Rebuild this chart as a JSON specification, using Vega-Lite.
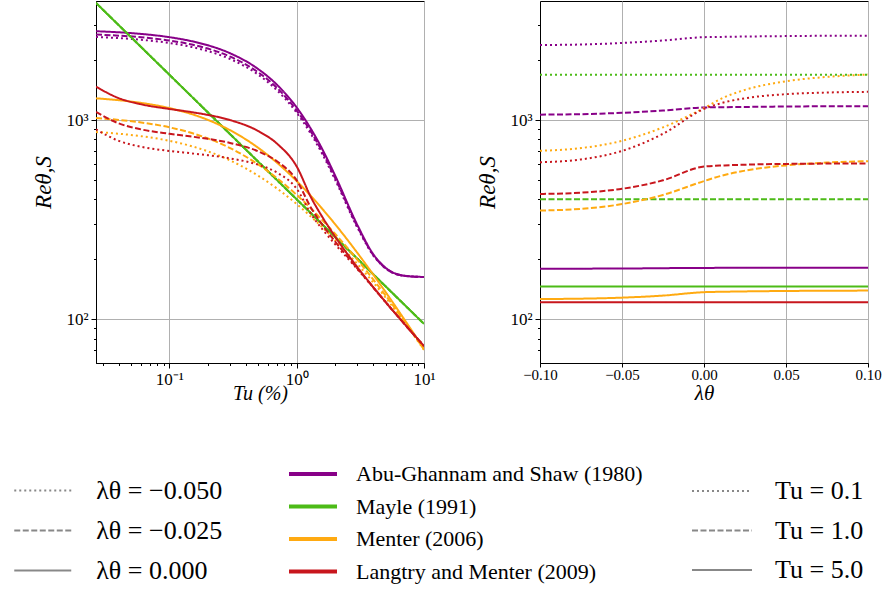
{
  "$schema": "https://vega.github.io/schema/vega-lite/v6.json",
  "padding": {"left": 26, "top": 0, "right": 0, "bottom": 0},
  "autosize": {"type": "pad"},
  "config": {
    "font": "Liberation Serif",
    "view": {"stroke": "#000000", "strokeWidth": 1},
    "axis": {
      "labelFont": "Liberation Serif", "labelFontSize": 15, "labelColor": "#000000",
      "titleFont": "Liberation Serif", "titleColor": "#000000", "titleFontWeight": "normal",
      "domainColor": "#000000", "tickColor": "#000000",
      "gridColor": "#b0b0b0", "gridWidth": 1,
      "labelFlush": false, "labelOverlap": false, "labelPadding": 3
    },
    "legend": {"padding": 0, "labelFont": "Liberation Serif", "labelColor": "#000000", "labelLimit": 400}
  },
  "datasets": {
    "tu_sweep": [
      {"model":"Abu-Ghannam and Shaw (1980)","case":"λθ = −0.050","Tu":0.0265,"Re":2609},
      {"model":"Abu-Ghannam and Shaw (1980)","case":"λθ = −0.050","Tu":0.04,"Re":2576},
      {"model":"Abu-Ghannam and Shaw (1980)","case":"λθ = −0.050","Tu":0.06,"Re":2528},
      {"model":"Abu-Ghannam and Shaw (1980)","case":"λθ = −0.050","Tu":0.1,"Re":2435},
      {"model":"Abu-Ghannam and Shaw (1980)","case":"λθ = −0.050","Tu":0.15,"Re":2325},
      {"model":"Abu-Ghannam and Shaw (1980)","case":"λθ = −0.050","Tu":0.2,"Re":2219},
      {"model":"Abu-Ghannam and Shaw (1980)","case":"λθ = −0.050","Tu":0.3,"Re":2023},
      {"model":"Abu-Ghannam and Shaw (1980)","case":"λθ = −0.050","Tu":0.5,"Re":1686},
      {"model":"Abu-Ghannam and Shaw (1980)","case":"λθ = −0.050","Tu":0.7,"Re":1410},
      {"model":"Abu-Ghannam and Shaw (1980)","case":"λθ = −0.050","Tu":1,"Re":1087},
      {"model":"Abu-Ghannam and Shaw (1980)","case":"λθ = −0.050","Tu":1.3,"Re":847},
      {"model":"Abu-Ghannam and Shaw (1980)","case":"λθ = −0.050","Tu":1.6,"Re":670},
      {"model":"Abu-Ghannam and Shaw (1980)","case":"λθ = −0.050","Tu":2,"Re":503},
      {"model":"Abu-Ghannam and Shaw (1980)","case":"λθ = −0.050","Tu":3,"Re":288},
      {"model":"Abu-Ghannam and Shaw (1980)","case":"λθ = −0.050","Tu":4,"Re":209},
      {"model":"Abu-Ghannam and Shaw (1980)","case":"λθ = −0.050","Tu":5,"Re":179.9},
      {"model":"Abu-Ghannam and Shaw (1980)","case":"λθ = −0.050","Tu":7,"Re":165.3},
      {"model":"Abu-Ghannam and Shaw (1980)","case":"λθ = −0.050","Tu":10,"Re":163.1},
      {"model":"Abu-Ghannam and Shaw (1980)","case":"λθ = −0.025","Tu":0.0265,"Re":2684},
      {"model":"Abu-Ghannam and Shaw (1980)","case":"λθ = −0.025","Tu":0.04,"Re":2651},
      {"model":"Abu-Ghannam and Shaw (1980)","case":"λθ = −0.025","Tu":0.06,"Re":2601},
      {"model":"Abu-Ghannam and Shaw (1980)","case":"λθ = −0.025","Tu":0.1,"Re":2506},
      {"model":"Abu-Ghannam and Shaw (1980)","case":"λθ = −0.025","Tu":0.15,"Re":2391},
      {"model":"Abu-Ghannam and Shaw (1980)","case":"λθ = −0.025","Tu":0.2,"Re":2283},
      {"model":"Abu-Ghannam and Shaw (1980)","case":"λθ = −0.025","Tu":0.3,"Re":2081},
      {"model":"Abu-Ghannam and Shaw (1980)","case":"λθ = −0.025","Tu":0.5,"Re":1733},
      {"model":"Abu-Ghannam and Shaw (1980)","case":"λθ = −0.025","Tu":0.7,"Re":1449},
      {"model":"Abu-Ghannam and Shaw (1980)","case":"λθ = −0.025","Tu":1,"Re":1115},
      {"model":"Abu-Ghannam and Shaw (1980)","case":"λθ = −0.025","Tu":1.3,"Re":869},
      {"model":"Abu-Ghannam and Shaw (1980)","case":"λθ = −0.025","Tu":1.6,"Re":686},
      {"model":"Abu-Ghannam and Shaw (1980)","case":"λθ = −0.025","Tu":2,"Re":513},
      {"model":"Abu-Ghannam and Shaw (1980)","case":"λθ = −0.025","Tu":3,"Re":292},
      {"model":"Abu-Ghannam and Shaw (1980)","case":"λθ = −0.025","Tu":4,"Re":210},
      {"model":"Abu-Ghannam and Shaw (1980)","case":"λθ = −0.025","Tu":5,"Re":180.4},
      {"model":"Abu-Ghannam and Shaw (1980)","case":"λθ = −0.025","Tu":7,"Re":165.4},
      {"model":"Abu-Ghannam and Shaw (1980)","case":"λθ = −0.025","Tu":10,"Re":163.1},
      {"model":"Abu-Ghannam and Shaw (1980)","case":"λθ = 0.000","Tu":0.0265,"Re":2790},
      {"model":"Abu-Ghannam and Shaw (1980)","case":"λθ = 0.000","Tu":0.04,"Re":2755},
      {"model":"Abu-Ghannam and Shaw (1980)","case":"λθ = 0.000","Tu":0.06,"Re":2704},
      {"model":"Abu-Ghannam and Shaw (1980)","case":"λθ = 0.000","Tu":0.1,"Re":2604},
      {"model":"Abu-Ghannam and Shaw (1980)","case":"λθ = 0.000","Tu":0.15,"Re":2485},
      {"model":"Abu-Ghannam and Shaw (1980)","case":"λθ = 0.000","Tu":0.2,"Re":2372},
      {"model":"Abu-Ghannam and Shaw (1980)","case":"λθ = 0.000","Tu":0.3,"Re":2162},
      {"model":"Abu-Ghannam and Shaw (1980)","case":"λθ = 0.000","Tu":0.5,"Re":1799},
      {"model":"Abu-Ghannam and Shaw (1980)","case":"λθ = 0.000","Tu":0.7,"Re":1503},
      {"model":"Abu-Ghannam and Shaw (1980)","case":"λθ = 0.000","Tu":1,"Re":1156},
      {"model":"Abu-Ghannam and Shaw (1980)","case":"λθ = 0.000","Tu":1.3,"Re":898},
      {"model":"Abu-Ghannam and Shaw (1980)","case":"λθ = 0.000","Tu":1.6,"Re":708},
      {"model":"Abu-Ghannam and Shaw (1980)","case":"λθ = 0.000","Tu":2,"Re":528},
      {"model":"Abu-Ghannam and Shaw (1980)","case":"λθ = 0.000","Tu":3,"Re":297},
      {"model":"Abu-Ghannam and Shaw (1980)","case":"λθ = 0.000","Tu":4,"Re":212},
      {"model":"Abu-Ghannam and Shaw (1980)","case":"λθ = 0.000","Tu":5,"Re":181.2},
      {"model":"Abu-Ghannam and Shaw (1980)","case":"λθ = 0.000","Tu":7,"Re":165.5},
      {"model":"Abu-Ghannam and Shaw (1980)","case":"λθ = 0.000","Tu":10,"Re":163.1},

      {"model":"Mayle (1991)","case":"λθ = −0.050","Tu":0.0265,"Re":3868},
      {"model":"Mayle (1991)","case":"λθ = −0.050","Tu":0.1,"Re":1687},
      {"model":"Mayle (1991)","case":"λθ = −0.050","Tu":0.3,"Re":849},
      {"model":"Mayle (1991)","case":"λθ = −0.050","Tu":1,"Re":400},
      {"model":"Mayle (1991)","case":"λθ = −0.050","Tu":3,"Re":201.3},
      {"model":"Mayle (1991)","case":"λθ = −0.050","Tu":10,"Re":94.9},
      {"model":"Mayle (1991)","case":"λθ = −0.025","Tu":0.0265,"Re":3868},
      {"model":"Mayle (1991)","case":"λθ = −0.025","Tu":0.1,"Re":1687},
      {"model":"Mayle (1991)","case":"λθ = −0.025","Tu":0.3,"Re":849},
      {"model":"Mayle (1991)","case":"λθ = −0.025","Tu":1,"Re":400},
      {"model":"Mayle (1991)","case":"λθ = −0.025","Tu":3,"Re":201.3},
      {"model":"Mayle (1991)","case":"λθ = −0.025","Tu":10,"Re":94.9},
      {"model":"Mayle (1991)","case":"λθ = 0.000","Tu":0.0265,"Re":3868},
      {"model":"Mayle (1991)","case":"λθ = 0.000","Tu":0.1,"Re":1687},
      {"model":"Mayle (1991)","case":"λθ = 0.000","Tu":0.3,"Re":849},
      {"model":"Mayle (1991)","case":"λθ = 0.000","Tu":1,"Re":400},
      {"model":"Mayle (1991)","case":"λθ = 0.000","Tu":3,"Re":201.3},
      {"model":"Mayle (1991)","case":"λθ = 0.000","Tu":10,"Re":94.9},

      {"model":"Menter (2006)","case":"λθ = −0.050","Tu":0.0265,"Re":870.5},
      {"model":"Menter (2006)","case":"λθ = −0.050","Tu":0.04,"Re":853.6},
      {"model":"Menter (2006)","case":"λθ = −0.050","Tu":0.06,"Re":829.9},
      {"model":"Menter (2006)","case":"λθ = −0.050","Tu":0.1,"Re":786.6},
      {"model":"Menter (2006)","case":"λθ = −0.050","Tu":0.15,"Re":738.8},
      {"model":"Menter (2006)","case":"λθ = −0.050","Tu":0.2,"Re":696.9},
      {"model":"Menter (2006)","case":"λθ = −0.050","Tu":0.3,"Re":627.0},
      {"model":"Menter (2006)","case":"λθ = −0.050","Tu":0.5,"Re":524.7},
      {"model":"Menter (2006)","case":"λθ = −0.050","Tu":0.7,"Re":453.3},
      {"model":"Menter (2006)","case":"λθ = −0.050","Tu":1,"Re":378.7},
      {"model":"Menter (2006)","case":"λθ = −0.050","Tu":1.3,"Re":326.8},
      {"model":"Menter (2006)","case":"λθ = −0.050","Tu":1.6,"Re":288.4},
      {"model":"Menter (2006)","case":"λθ = −0.050","Tu":2,"Re":250.3},
      {"model":"Menter (2006)","case":"λθ = −0.050","Tu":3,"Re":189.5},
      {"model":"Menter (2006)","case":"λθ = −0.050","Tu":4,"Re":153.0},
      {"model":"Menter (2006)","case":"λθ = −0.050","Tu":5,"Re":128.5},
      {"model":"Menter (2006)","case":"λθ = −0.050","Tu":7,"Re":96.8},
      {"model":"Menter (2006)","case":"λθ = −0.050","Tu":10,"Re":70.3},
      {"model":"Menter (2006)","case":"λθ = −0.025","Tu":0.0265,"Re":1022.4},
      {"model":"Menter (2006)","case":"λθ = −0.025","Tu":0.04,"Re":1001.6},
      {"model":"Menter (2006)","case":"λθ = −0.025","Tu":0.06,"Re":972.4},
      {"model":"Menter (2006)","case":"λθ = −0.025","Tu":0.1,"Re":919.0},
      {"model":"Menter (2006)","case":"λθ = −0.025","Tu":0.15,"Re":860.3},
      {"model":"Menter (2006)","case":"λθ = −0.025","Tu":0.2,"Re":808.8},
      {"model":"Menter (2006)","case":"λθ = −0.025","Tu":0.3,"Re":723.0},
      {"model":"Menter (2006)","case":"λθ = −0.025","Tu":0.5,"Re":597.9},
      {"model":"Menter (2006)","case":"λθ = −0.025","Tu":0.7,"Re":511.0},
      {"model":"Menter (2006)","case":"λθ = −0.025","Tu":1,"Re":420.9},
      {"model":"Menter (2006)","case":"λθ = −0.025","Tu":1.3,"Re":358.8},
      {"model":"Menter (2006)","case":"λθ = −0.025","Tu":1.6,"Re":313.4},
      {"model":"Menter (2006)","case":"λθ = −0.025","Tu":2,"Re":268.7},
      {"model":"Menter (2006)","case":"λθ = −0.025","Tu":3,"Re":199.0},
      {"model":"Menter (2006)","case":"λθ = −0.025","Tu":4,"Re":158.3},
      {"model":"Menter (2006)","case":"λθ = −0.025","Tu":5,"Re":131.6},
      {"model":"Menter (2006)","case":"λθ = −0.025","Tu":7,"Re":98.0},
      {"model":"Menter (2006)","case":"λθ = −0.025","Tu":10,"Re":70.6},
      {"model":"Menter (2006)","case":"λθ = 0.000","Tu":0.0265,"Re":1285.1},
      {"model":"Menter (2006)","case":"λθ = 0.000","Tu":0.04,"Re":1257.5},
      {"model":"Menter (2006)","case":"λθ = 0.000","Tu":0.06,"Re":1218.8},
      {"model":"Menter (2006)","case":"λθ = 0.000","Tu":0.1,"Re":1148.0},
      {"model":"Menter (2006)","case":"λθ = 0.000","Tu":0.15,"Re":1070.2},
      {"model":"Menter (2006)","case":"λθ = 0.000","Tu":0.2,"Re":1002.1},
      {"model":"Menter (2006)","case":"λθ = 0.000","Tu":0.3,"Re":888.8},
      {"model":"Menter (2006)","case":"λθ = 0.000","Tu":0.5,"Re":724.3},
      {"model":"Menter (2006)","case":"λθ = 0.000","Tu":0.7,"Re":610.7},
      {"model":"Menter (2006)","case":"λθ = 0.000","Tu":1,"Re":493.9},
      {"model":"Menter (2006)","case":"λθ = 0.000","Tu":1.3,"Re":414.2},
      {"model":"Menter (2006)","case":"λθ = 0.000","Tu":1.6,"Re":356.5},
      {"model":"Menter (2006)","case":"λθ = 0.000","Tu":2,"Re":300.5},
      {"model":"Menter (2006)","case":"λθ = 0.000","Tu":3,"Re":215.3},
      {"model":"Menter (2006)","case":"λθ = 0.000","Tu":4,"Re":167.4},
      {"model":"Menter (2006)","case":"λθ = 0.000","Tu":5,"Re":136.9},
      {"model":"Menter (2006)","case":"λθ = 0.000","Tu":7,"Re":100.0},
      {"model":"Menter (2006)","case":"λθ = 0.000","Tu":10,"Re":71.1},

      {"model":"Langtry and Menter (2009)","case":"λθ = −0.050","Tu":0.0265,"Re":897.2},
      {"model":"Langtry and Menter (2009)","case":"λθ = −0.050","Tu":0.04,"Re":786.3},
      {"model":"Langtry and Menter (2009)","case":"λθ = −0.050","Tu":0.06,"Re":734.2},
      {"model":"Langtry and Menter (2009)","case":"λθ = −0.050","Tu":0.1,"Re":699.9},
      {"model":"Langtry and Menter (2009)","case":"λθ = −0.050","Tu":0.15,"Re":680.3},
      {"model":"Langtry and Menter (2009)","case":"λθ = −0.050","Tu":0.2,"Re":666.1},
      {"model":"Langtry and Menter (2009)","case":"λθ = −0.050","Tu":0.3,"Re":642.0},
      {"model":"Langtry and Menter (2009)","case":"λθ = −0.050","Tu":0.5,"Re":596.1},
      {"model":"Langtry and Menter (2009)","case":"λθ = −0.050","Tu":0.7,"Re":545.0},
      {"model":"Langtry and Menter (2009)","case":"λθ = −0.050","Tu":1,"Re":451.8},
      {"model":"Langtry and Menter (2009)","case":"λθ = −0.050","Tu":1.3,"Re":336.3},
      {"model":"Langtry and Menter (2009)","case":"λθ = −0.050","Tu":1.6,"Re":282.0},
      {"model":"Langtry and Menter (2009)","case":"λθ = −0.050","Tu":2,"Re":238.5},
      {"model":"Langtry and Menter (2009)","case":"λθ = −0.050","Tu":3,"Re":178.3},
      {"model":"Langtry and Menter (2009)","case":"λθ = −0.050","Tu":4,"Re":144.2},
      {"model":"Langtry and Menter (2009)","case":"λθ = −0.050","Tu":5,"Re":121.9},
      {"model":"Langtry and Menter (2009)","case":"λθ = −0.050","Tu":7,"Re":95.0},
      {"model":"Langtry and Menter (2009)","case":"λθ = −0.050","Tu":10,"Re":73.5},
      {"model":"Langtry and Menter (2009)","case":"λθ = −0.025","Tu":0.0265,"Re":1098.4},
      {"model":"Langtry and Menter (2009)","case":"λθ = −0.025","Tu":0.04,"Re":962.1},
      {"model":"Langtry and Menter (2009)","case":"λθ = −0.025","Tu":0.06,"Re":897.3},
      {"model":"Langtry and Menter (2009)","case":"λθ = −0.025","Tu":0.1,"Re":853.1},
      {"model":"Langtry and Menter (2009)","case":"λθ = −0.025","Tu":0.15,"Re":825.8},
      {"model":"Langtry and Menter (2009)","case":"λθ = −0.025","Tu":0.2,"Re":804.7},
      {"model":"Langtry and Menter (2009)","case":"λθ = −0.025","Tu":0.3,"Re":767.3},
      {"model":"Langtry and Menter (2009)","case":"λθ = −0.025","Tu":0.5,"Re":695.6},
      {"model":"Langtry and Menter (2009)","case":"λθ = −0.025","Tu":0.7,"Re":621.0},
      {"model":"Langtry and Menter (2009)","case":"λθ = −0.025","Tu":1,"Re":498.3},
      {"model":"Langtry and Menter (2009)","case":"λθ = −0.025","Tu":1.3,"Re":361.3},
      {"model":"Langtry and Menter (2009)","case":"λθ = −0.025","Tu":1.6,"Re":296.8},
      {"model":"Langtry and Menter (2009)","case":"λθ = −0.025","Tu":2,"Re":246.1},
      {"model":"Langtry and Menter (2009)","case":"λθ = −0.025","Tu":3,"Re":179.8},
      {"model":"Langtry and Menter (2009)","case":"λθ = −0.025","Tu":4,"Re":144.4},
      {"model":"Langtry and Menter (2009)","case":"λθ = −0.025","Tu":5,"Re":121.9},
      {"model":"Langtry and Menter (2009)","case":"λθ = −0.025","Tu":7,"Re":95.0},
      {"model":"Langtry and Menter (2009)","case":"λθ = −0.025","Tu":10,"Re":73.5},
      {"model":"Langtry and Menter (2009)","case":"λθ = 0.000","Tu":0.0265,"Re":1470.6},
      {"model":"Langtry and Menter (2009)","case":"λθ = 0.000","Tu":0.04,"Re":1287.2},
      {"model":"Langtry and Menter (2009)","case":"λθ = 0.000","Tu":0.06,"Re":1199.1},
      {"model":"Langtry and Menter (2009)","case":"λθ = 0.000","Tu":0.1,"Re":1136.5},
      {"model":"Langtry and Menter (2009)","case":"λθ = 0.000","Tu":0.15,"Re":1094.9},
      {"model":"Langtry and Menter (2009)","case":"λθ = 0.000","Tu":0.2,"Re":1061.1},
      {"model":"Langtry and Menter (2009)","case":"λθ = 0.000","Tu":0.3,"Re":999.1},
      {"model":"Langtry and Menter (2009)","case":"λθ = 0.000","Tu":0.5,"Re":879.7},
      {"model":"Langtry and Menter (2009)","case":"λθ = 0.000","Tu":0.7,"Re":761.4},
      {"model":"Langtry and Menter (2009)","case":"λθ = 0.000","Tu":1,"Re":584.3},
      {"model":"Langtry and Menter (2009)","case":"λθ = 0.000","Tu":1.3,"Re":407.4},
      {"model":"Langtry and Menter (2009)","case":"λθ = 0.000","Tu":1.6,"Re":324.1},
      {"model":"Langtry and Menter (2009)","case":"λθ = 0.000","Tu":2,"Re":260.3},
      {"model":"Langtry and Menter (2009)","case":"λθ = 0.000","Tu":3,"Re":182.5},
      {"model":"Langtry and Menter (2009)","case":"λθ = 0.000","Tu":4,"Re":144.9},
      {"model":"Langtry and Menter (2009)","case":"λθ = 0.000","Tu":5,"Re":122.0},
      {"model":"Langtry and Menter (2009)","case":"λθ = 0.000","Tu":7,"Re":95.0},
      {"model":"Langtry and Menter (2009)","case":"λθ = 0.000","Tu":10,"Re":73.5}
    ],
    "lambda_sweep": [
      {"model":"Abu-Ghannam and Shaw (1980)","case":"Tu = 0.1","lambda":-0.1,"Re":2378},
      {"model":"Abu-Ghannam and Shaw (1980)","case":"Tu = 0.1","lambda":-0.075,"Re":2393},
      {"model":"Abu-Ghannam and Shaw (1980)","case":"Tu = 0.1","lambda":-0.05,"Re":2435},
      {"model":"Abu-Ghannam and Shaw (1980)","case":"Tu = 0.1","lambda":-0.025,"Re":2506},
      {"model":"Abu-Ghannam and Shaw (1980)","case":"Tu = 0.1","lambda":0,"Re":2604},
      {"model":"Abu-Ghannam and Shaw (1980)","case":"Tu = 0.1","lambda":0.0125,"Re":2614},
      {"model":"Abu-Ghannam and Shaw (1980)","case":"Tu = 0.1","lambda":0.025,"Re":2623},
      {"model":"Abu-Ghannam and Shaw (1980)","case":"Tu = 0.1","lambda":0.05,"Re":2637},
      {"model":"Abu-Ghannam and Shaw (1980)","case":"Tu = 0.1","lambda":0.075,"Re":2646},
      {"model":"Abu-Ghannam and Shaw (1980)","case":"Tu = 0.1","lambda":0.1,"Re":2648},
      {"model":"Abu-Ghannam and Shaw (1980)","case":"Tu = 1.0","lambda":-0.1,"Re":1064},
      {"model":"Abu-Ghannam and Shaw (1980)","case":"Tu = 1.0","lambda":-0.075,"Re":1070},
      {"model":"Abu-Ghannam and Shaw (1980)","case":"Tu = 1.0","lambda":-0.05,"Re":1087},
      {"model":"Abu-Ghannam and Shaw (1980)","case":"Tu = 1.0","lambda":-0.025,"Re":1116},
      {"model":"Abu-Ghannam and Shaw (1980)","case":"Tu = 1.0","lambda":0,"Re":1156},
      {"model":"Abu-Ghannam and Shaw (1980)","case":"Tu = 1.0","lambda":0.0125,"Re":1160},
      {"model":"Abu-Ghannam and Shaw (1980)","case":"Tu = 1.0","lambda":0.025,"Re":1163},
      {"model":"Abu-Ghannam and Shaw (1980)","case":"Tu = 1.0","lambda":0.05,"Re":1169},
      {"model":"Abu-Ghannam and Shaw (1980)","case":"Tu = 1.0","lambda":0.075,"Re":1172},
      {"model":"Abu-Ghannam and Shaw (1980)","case":"Tu = 1.0","lambda":0.1,"Re":1174},
      {"model":"Abu-Ghannam and Shaw (1980)","case":"Tu = 5.0","lambda":-0.1,"Re":179.5},
      {"model":"Abu-Ghannam and Shaw (1980)","case":"Tu = 5.0","lambda":-0.05,"Re":179.9},
      {"model":"Abu-Ghannam and Shaw (1980)","case":"Tu = 5.0","lambda":0,"Re":181.2},
      {"model":"Abu-Ghannam and Shaw (1980)","case":"Tu = 5.0","lambda":0.05,"Re":181.4},
      {"model":"Abu-Ghannam and Shaw (1980)","case":"Tu = 5.0","lambda":0.1,"Re":181.5},

      {"model":"Mayle (1991)","case":"Tu = 0.1","lambda":-0.1,"Re":1687},
      {"model":"Mayle (1991)","case":"Tu = 0.1","lambda":0,"Re":1687},
      {"model":"Mayle (1991)","case":"Tu = 0.1","lambda":0.1,"Re":1687},
      {"model":"Mayle (1991)","case":"Tu = 1.0","lambda":-0.1,"Re":400},
      {"model":"Mayle (1991)","case":"Tu = 1.0","lambda":0,"Re":400},
      {"model":"Mayle (1991)","case":"Tu = 1.0","lambda":0.1,"Re":400},
      {"model":"Mayle (1991)","case":"Tu = 5.0","lambda":-0.1,"Re":146.3},
      {"model":"Mayle (1991)","case":"Tu = 5.0","lambda":0,"Re":146.3},
      {"model":"Mayle (1991)","case":"Tu = 5.0","lambda":0.1,"Re":146.3},

      {"model":"Menter (2006)","case":"Tu = 0.1","lambda":-0.1,"Re":700.7},
      {"model":"Menter (2006)","case":"Tu = 0.1","lambda":-0.075,"Re":723.0},
      {"model":"Menter (2006)","case":"Tu = 0.1","lambda":-0.05,"Re":786.6},
      {"model":"Menter (2006)","case":"Tu = 0.1","lambda":-0.025,"Re":919.0},
      {"model":"Menter (2006)","case":"Tu = 0.1","lambda":0,"Re":1148.0},
      {"model":"Menter (2006)","case":"Tu = 0.1","lambda":0.0125,"Re":1302.2},
      {"model":"Menter (2006)","case":"Tu = 0.1","lambda":0.025,"Re":1416.6},
      {"model":"Menter (2006)","case":"Tu = 0.1","lambda":0.05,"Re":1564.4},
      {"model":"Menter (2006)","case":"Tu = 0.1","lambda":0.075,"Re":1645.7},
      {"model":"Menter (2006)","case":"Tu = 0.1","lambda":0.1,"Re":1690.4},
      {"model":"Menter (2006)","case":"Tu = 1.0","lambda":-0.1,"Re":351.3},
      {"model":"Menter (2006)","case":"Tu = 1.0","lambda":-0.075,"Re":358.5},
      {"model":"Menter (2006)","case":"Tu = 1.0","lambda":-0.05,"Re":378.7},
      {"model":"Menter (2006)","case":"Tu = 1.0","lambda":-0.025,"Re":420.9},
      {"model":"Menter (2006)","case":"Tu = 1.0","lambda":0,"Re":493.9},
      {"model":"Menter (2006)","case":"Tu = 1.0","lambda":0.0125,"Re":530.3},
      {"model":"Menter (2006)","case":"Tu = 1.0","lambda":0.025,"Re":557.3},
      {"model":"Menter (2006)","case":"Tu = 1.0","lambda":0.05,"Re":592.2},
      {"model":"Menter (2006)","case":"Tu = 1.0","lambda":0.075,"Re":611.4},
      {"model":"Menter (2006)","case":"Tu = 1.0","lambda":0.1,"Re":622.0},
      {"model":"Menter (2006)","case":"Tu = 5.0","lambda":-0.1,"Re":126.5},
      {"model":"Menter (2006)","case":"Tu = 5.0","lambda":-0.075,"Re":127.0},
      {"model":"Menter (2006)","case":"Tu = 5.0","lambda":-0.05,"Re":128.5},
      {"model":"Menter (2006)","case":"Tu = 5.0","lambda":-0.025,"Re":131.6},
      {"model":"Menter (2006)","case":"Tu = 5.0","lambda":0,"Re":136.9},
      {"model":"Menter (2006)","case":"Tu = 5.0","lambda":0.0125,"Re":137.6},
      {"model":"Menter (2006)","case":"Tu = 5.0","lambda":0.025,"Re":138.1},
      {"model":"Menter (2006)","case":"Tu = 5.0","lambda":0.05,"Re":138.8},
      {"model":"Menter (2006)","case":"Tu = 5.0","lambda":0.075,"Re":139.2},
      {"model":"Menter (2006)","case":"Tu = 5.0","lambda":0.1,"Re":139.4},

      {"model":"Langtry and Menter (2009)","case":"Tu = 0.1","lambda":-0.1,"Re":614.0},
      {"model":"Langtry and Menter (2009)","case":"Tu = 0.1","lambda":-0.075,"Re":634.3},
      {"model":"Langtry and Menter (2009)","case":"Tu = 0.1","lambda":-0.05,"Re":699.9},
      {"model":"Langtry and Menter (2009)","case":"Tu = 0.1","lambda":-0.025,"Re":853.1},
      {"model":"Langtry and Menter (2009)","case":"Tu = 0.1","lambda":0,"Re":1136.5},
      {"model":"Langtry and Menter (2009)","case":"Tu = 0.1","lambda":0.0125,"Re":1227.2},
      {"model":"Langtry and Menter (2009)","case":"Tu = 0.1","lambda":0.025,"Re":1285.7},
      {"model":"Langtry and Menter (2009)","case":"Tu = 0.1","lambda":0.05,"Re":1347.9},
      {"model":"Langtry and Menter (2009)","case":"Tu = 0.1","lambda":0.075,"Re":1373.8},
      {"model":"Langtry and Menter (2009)","case":"Tu = 0.1","lambda":0.1,"Re":1384.7},
      {"model":"Langtry and Menter (2009)","case":"Tu = 1.0","lambda":-0.1,"Re":425.7},
      {"model":"Langtry and Menter (2009)","case":"Tu = 1.0","lambda":-0.075,"Re":431.9},
      {"model":"Langtry and Menter (2009)","case":"Tu = 1.0","lambda":-0.05,"Re":451.8},
      {"model":"Langtry and Menter (2009)","case":"Tu = 1.0","lambda":-0.025,"Re":498.3},
      {"model":"Langtry and Menter (2009)","case":"Tu = 1.0","lambda":0,"Re":584.3},
      {"model":"Langtry and Menter (2009)","case":"Tu = 1.0","lambda":0.0125,"Re":592.0},
      {"model":"Langtry and Menter (2009)","case":"Tu = 1.0","lambda":0.025,"Re":597.0},
      {"model":"Langtry and Menter (2009)","case":"Tu = 1.0","lambda":0.05,"Re":602.3},
      {"model":"Langtry and Menter (2009)","case":"Tu = 1.0","lambda":0.075,"Re":604.5},
      {"model":"Langtry and Menter (2009)","case":"Tu = 1.0","lambda":0.1,"Re":605.4},
      {"model":"Langtry and Menter (2009)","case":"Tu = 5.0","lambda":-0.1,"Re":121.9},
      {"model":"Langtry and Menter (2009)","case":"Tu = 5.0","lambda":-0.05,"Re":121.9},
      {"model":"Langtry and Menter (2009)","case":"Tu = 5.0","lambda":0,"Re":122.0},
      {"model":"Langtry and Menter (2009)","case":"Tu = 5.0","lambda":0.05,"Re":122.0},
      {"model":"Langtry and Menter (2009)","case":"Tu = 5.0","lambda":0.1,"Re":122.0}
    ]
  },
  "bounds": "flush",
  "spacing": 116,
  "resolve": {
    "scale": {"color": "independent", "strokeDash": "independent"},
    "legend": {"color": "independent", "strokeDash": "independent"}
  },
  "hconcat": [
    {
      "width": 328,
      "height": 362,
      "data": {"name": "tu_sweep"},
      "mark": {"type": "line", "strokeWidth": 2, "interpolate": "monotone", "clip": true, "color": "#888888"},
      "encoding": {
        "x": {
          "field": "Tu", "type": "quantitative",
          "scale": {"type": "log", "domain": [0.0265, 10], "nice": false},
          "axis": {
            "title": "Tu (%)", "titleFontSize": 20, "titleFontStyle": "italic", "titlePadding": -4,
            "labelFontSize": 17,
            "values": [0.03,0.04,0.05,0.06,0.07,0.08,0.09,0.1,0.2,0.3,0.4,0.5,0.6,0.7,0.8,0.9,1,2,3,4,5,6,7,8,9,10],
            "labelExpr": "datum.value === 0.1 ? '10⁻¹' : datum.value === 1 ? '10⁰' : datum.value === 10 ? '10¹' : ''",
            "tickSize": {"condition": {"test": "datum.value === 0.1 || datum.value === 1 || datum.value === 10", "value": 5}, "value": 2.5},
            "gridOpacity": {"condition": {"test": "datum.value === 0.1 || datum.value === 1 || datum.value === 10", "value": 1}, "value": 0}
          }
        },
        "y": {
          "field": "Re", "type": "quantitative",
          "scale": {"type": "log", "domain": [60.4, 3955], "nice": false},
          "axis": {
            "title": "Reθ,S", "titleFontSize": 23, "titleFontStyle": "italic", "titlePadding": 10,
            "labelFontSize": 17,
            "values": [70,80,90,100,200,300,400,500,600,700,800,900,1000,2000,3000],
            "labelExpr": "datum.value === 100 ? '10²' : datum.value === 1000 ? '10³' : ''",
            "tickSize": {"condition": {"test": "datum.value === 100 || datum.value === 1000", "value": 5}, "value": 2.5},
            "gridOpacity": {"condition": {"test": "datum.value === 100 || datum.value === 1000", "value": 1}, "value": 0}
          }
        },
        "color": {
          "field": "model", "type": "nominal",
          "scale": {
            "domain": ["Abu-Ghannam and Shaw (1980)", "Mayle (1991)", "Menter (2006)", "Langtry and Menter (2009)"],
            "range": ["#880088", "#4cbb17", "#ffaa11", "#c8161d"]
          },
          "legend": {
            "orient": "none", "legendX": 203, "legendY": 459, "title": null,
            "symbolType": "M-2,0H2", "symbolSize": 576, "symbolStrokeWidth": 4,
            "labelFontSize": 22, "labelOffset": 29, "rowPadding": 7.5
          }
        },
        "strokeDash": {
          "field": "case", "type": "nominal",
          "scale": {
            "domain": ["λθ = −0.050", "λθ = −0.025", "λθ = 0.000"],
            "range": [[2, 3], [6, 2.5], [1, 0]]
          },
          "legend": {
            "orient": "none", "legendX": -68.75, "legendY": 474, "title": null,
            "symbolType": "M-2,0H2", "symbolSize": 812, "symbolStrokeWidth": 2, "symbolStrokeColor": "#888888",
            "labelFontSize": 26, "labelOffset": 38, "rowPadding": 11
          }
        }
      }
    },
    {
      "width": 328,
      "height": 362,
      "data": {"name": "lambda_sweep"},
      "mark": {"type": "line", "strokeWidth": 2, "interpolate": "monotone", "clip": true, "color": "#888888"},
      "encoding": {
        "x": {
          "field": "lambda", "type": "quantitative",
          "scale": {"domain": [-0.1, 0.1], "nice": false},
          "axis": {
            "title": "λθ", "titleFontSize": 21, "titleFontStyle": "italic", "titlePadding": 0,
            "values": [-0.1, -0.05, 0, 0.05, 0.1], "format": ".2f", "tickSize": 4, "labelPadding": 0
          }
        },
        "y": {
          "field": "Re", "type": "quantitative",
          "scale": {"type": "log", "domain": [60.4, 3955], "nice": false},
          "axis": {
            "title": "Reθ,S", "titleFontSize": 23, "titleFontStyle": "italic", "titlePadding": 10,
            "labelFontSize": 17,
            "values": [70,80,90,100,200,300,400,500,600,700,800,900,1000,2000,3000],
            "labelExpr": "datum.value === 100 ? '10²' : datum.value === 1000 ? '10³' : ''",
            "tickSize": {"condition": {"test": "datum.value === 100 || datum.value === 1000", "value": 5}, "value": 2.5},
            "gridOpacity": {"condition": {"test": "datum.value === 100 || datum.value === 1000", "value": 1}, "value": 0}
          }
        },
        "color": {
          "field": "model", "type": "nominal",
          "scale": {
            "domain": ["Abu-Ghannam and Shaw (1980)", "Mayle (1991)", "Menter (2006)", "Langtry and Menter (2009)"],
            "range": ["#880088", "#4cbb17", "#ffaa11", "#c8161d"]
          },
          "legend": null
        },
        "strokeDash": {
          "field": "case", "type": "nominal",
          "scale": {
            "domain": ["Tu = 0.1", "Tu = 1.0", "Tu = 5.0"],
            "range": [[2, 3], [6, 2.5], [1, 0]]
          },
          "legend": {
            "orient": "none", "legendX": 166, "legendY": 474, "title": null,
            "symbolType": "M-2,0H2", "symbolSize": 900, "symbolStrokeWidth": 2, "symbolStrokeColor": "#888888",
            "labelFontSize": 26, "labelOffset": 37, "rowPadding": 10.5
          }
        }
      }
    }
  ]
}
